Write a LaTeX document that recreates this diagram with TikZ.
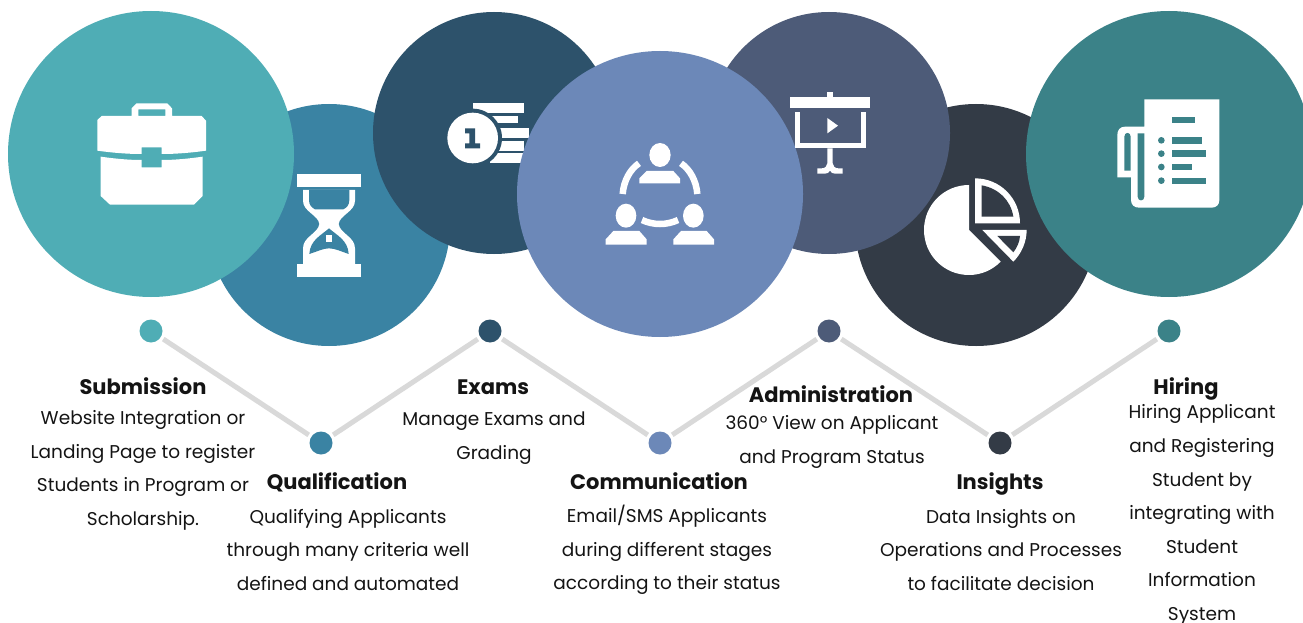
\documentclass[tikz,border=0pt]{standalone}
\usepackage{fontspec}
\setmainfont{Poppins}
\definecolor{cA}{HTML}{4FADB5}
\definecolor{cB}{HTML}{3A83A3}
\definecolor{cC}{HTML}{2D526B}
\definecolor{cD}{HTML}{6C88B8}
\definecolor{cE}{HTML}{4D5B78}
\definecolor{cF}{HTML}{333B46}
\definecolor{cG}{HTML}{3B8288}
\definecolor{lnk}{HTML}{D9D9D9}
\definecolor{ink}{HTML}{141414}
\tikzset{
 big/.style={circle,inner sep=0pt,minimum size=286pt,fill=#1},
 mid/.style={circle,inner sep=0pt,minimum size=242pt,fill=#1},
 dot/.style={circle,inner sep=0pt,minimum size=23pt,fill=#1},
 link/.style={draw=lnk,line width=5pt,shorten <=3pt,shorten >=3pt},
 ttl/.style={text=ink,font=\fontsize{21}{24}\selectfont\bfseries,inner sep=0pt,text height=20pt,text depth=3pt},
 txt/.style={text=ink,align=center,inner sep=0pt,font=\fontsize{18.5}{33.6}\selectfont},
 icon/.style 2 args={xshift=#1pt,yshift=-#2pt,x=.33333pt,y=-.33333pt},
}
\begin{document}
\begin{tikzpicture}[x=1pt,y=-1pt]
\useasboundingbox (0,0) rectangle (1303,623);
\clip (0,0) rectangle (1303,623);
\fill[white] (0,0) rectangle (1303,623);
% circles
\node[mid=cB] (c2) at (329,225) {};
\node[mid=cF] (c6) at (976,225) {};
\node[big=cA] (c1) at (151,154) {};
\node[mid=cC] (c3) at (494,133) {};
\node[mid=cE] (c5) at (829,133) {};
\node[big=cG] (c7) at (1169,154) {};
% coins
\begin{scope}[icon={430}{80}]
\fill[white] (128,68) rectangle (281,98);
\fill[white] (180,108) rectangle (265,130);
\fill[white] (200,145) rectangle (296,175);
\fill[white] (200,182) rectangle (281,212);
\fill[white] (180,220) rectangle (281,250);
\fill[cC] (128,174) circle[radius=88];
\fill[white] (128,174) circle[radius=76];
\fill[cC] (105,145)--(135,145)--(135,190)--(150,190)--(150,205)--(105,205)--(105,190)--(118,190)--(118,160)--(105,160)--cycle;
\end{scope}
\node[big=cD] (c4) at (660,194) {};
% briefcase
\begin{scope}[icon={60}{80}]
\fill[white,even odd rule] (112,120)--(125,108)--(215,108)--(215,85)--(230,70)--(322,70)--(336,85)--(336,108)--(425,108)--(438,122)--(438,212)
 .. controls (395,218) and (350,222) .. (305,222)--(305,202)--(245,202)--(245,222) .. controls (200,222) and (155,218) .. (112,212)--cycle
 (235,88) rectangle (316,108);
\fill[white] (122,230) .. controls (165,236) and (205,240) .. (245,240)--(245,262)--(305,262)--(305,240) .. controls (345,240) and (385,236) .. (428,230)--(428,348)--(402,374)--(150,374)--(122,348)--cycle;
% hourglass
\fill[white] (710,281) rectangle (903,320);
\fill[white] (710,552) rectangle (903,591);
\fill[white] (729,330)--(729,362) .. controls (729,395) and (775,405) .. (778,432) .. controls (775,460) and (729,470) .. (729,505)--(729,552)--(885,552)--(885,505) .. controls (885,470) and (839,460) .. (836,432) .. controls (839,405) and (885,395) .. (885,362)--(885,330)--cycle;
\fill[cB] (747,330)--(747,360) .. controls (747,375) and (755,383) .. (765,388)--(850,388) .. controls (860,383) and (868,375) .. (868,360)--(868,330)--cycle;
\fill[cB] (807,445) .. controls (785,465) and (750,480) .. (748,522) .. controls (770,515) and (790,505) .. (807,505) .. controls (825,505) and (845,515) .. (866,522) .. controls (864,480) and (829,465) .. (807,445)--cycle;
\fill[white] (797,465) rectangle (817,485);
\end{scope}
% people
\begin{scope}[icon={430}{80}]
\fill[white] (690,225) ellipse[x radius=32,y radius=36];
\fill[white] (628,310)--(628,295)--(650,273)--(730,273)--(750,295)--(750,310)--cycle;
\fill[white] (588,407) ellipse[x radius=31,y radius=36];
\fill[white] (527,494)--(527,478)--(550,453)--(628,453)--(650,478)--(650,494)--cycle;
\fill[white] (790,407) ellipse[x radius=31,y radius=36];
\fill[white] (730,494)--(730,478)--(753,453)--(830,453)--(852,478)--(852,494)--cycle;
\draw[white,line width=6.5pt] (578,342) .. controls (581,303) and (600,268) .. (627,250);
\draw[white,line width=6.5pt] (802,342) .. controls (799,303) and (780,268) .. (753,250);
\draw[white,line width=6.5pt] (636,420) .. controls (670,436) and (710,436) .. (744,420);
\end{scope}
% screen
\begin{scope}[icon={770}{80}]
\fill[white] (60,52) rectangle (301,84);
\fill[white] (172,37) rectangle (188,52);
\draw[white,line width=5.3pt] (83,97)--(83,197)--(280,197)--(280,97);
\fill[white] (172,114)--(204,137)--(172,160)--cycle;
\fill[white] (172,205)--(188,205)--(188,250) .. controls (188,258) and (195,265) .. (205,265)--(218,265)--(218,281)--(195,281) .. controls (188,281) and (183,278) .. (180,272) .. controls (177,278) and (172,281) .. (165,281)--(142,281)--(142,265)--(155,265) .. controls (165,265) and (172,258) .. (172,250)--cycle;
% pie
\fill[white] (597,315) .. controls (522,315) and (462,375) .. (462,450) .. controls (462,525) and (522,585) .. (597,585) .. controls (634,585) and (667,570) .. (692,545)--(597,450)--cycle;
\fill[white] (615,295) .. controls (690,295) and (750,355) .. (750,430)--(615,430)--cycle;
\fill[cF] (635,316) .. controls (685,325) and (722,360) .. (730,410)--(635,410)--cycle;
\fill[white] (637,450)--(770,450) .. controls (770,485) and (755,520) .. (730,545)--cycle;
\fill[cF] (682,468)--(750,468) .. controls (749,485) and (741,503) .. (730,517)--cycle;
\end{scope}
% document
\begin{scope}[icon={1090}{80}]
\fill[white] (163,58)--(388,58)--(388,360) .. controls (388,375) and (378,383) .. (365,383)--(148,383) .. controls (133,383) and (123,375) .. (123,360)--(123,292)--(82,292)--(82,165) .. controls (82,150) and (90,140) .. (105,140)--(163,140)--cycle;
\fill[cG] (103,272)--(103,170) .. controls (103,155) and (122,155) .. (122,170)--(122,272)--cycle;
\fill[cG] (143,160)--(163,160)--(163,350) .. controls (163,365) and (143,365) .. (143,350)--cycle;
\fill[cG] (245,110) rectangle (316,130);
\fill[cG] (245,171) rectangle (337,191);
\fill[cG] (245,211) rectangle (347,231);
\fill[cG] (245,252) rectangle (306,271);
\fill[cG] (245,293) rectangle (347,312);
\foreach \yy in {181,221,261,302}{\fill[cG] (214,\yy) circle[radius=10];}
\end{scope}
% dots and links
\node[dot=cA] (d1) at (151,331) {};
\node[dot=cB] (d2) at (321,443) {};
\node[dot=cC] (d3) at (490,331) {};
\node[dot=cD] (d4) at (660,443) {};
\node[dot=cE] (d5) at (829,331) {};
\node[dot=cF] (d6) at (1000,443) {};
\node[dot=cG] (d7) at (1169,331) {};
\draw[link] (d1)--(d2);
\draw[link] (d2)--(d3);
\draw[link] (d3)--(d4);
\draw[link] (d4)--(d5);
\draw[link] (d5)--(d6);
\draw[link] (d6)--(d7);
% text
\node[ttl] (t1) at (143,386) {Submission};
\node[txt] (b1) at (143,470.5) {Website Integration or\\Landing Page to register\\Students in Program or\\Scholarship.};
\node[ttl] (t2) at (337,481) {Qualification};
\node[txt] (b2) at (348,550) {Qualifying Applicants\\through many criteria well\\defined and automated};
\node[ttl] (t3) at (493,386) {Exams};
\node[txt] (b3) at (494,438) {Manage Exams and\\Grading};
\node[ttl] (t4) at (659,481) {Communication};
\node[txt] (b4) at (667,550) {Email/SMS Applicants\\during different stages\\according to their status};
\node[ttl] (t5) at (831,394) {Administration};
\node[txt] (b5) at (832,442) {360° View on Applicant\\and Program Status};
\node[ttl] (t6) at (1000,481) {Insights};
\node[txt] (b6) at (1001,550) {Data Insights on\\Operations and Processes\\to facilitate decision};
\node[ttl] (t7) at (1186,386) {Hiring};
\node[txt] (b7) at (1202,515) {Hiring Applicant\\and Registering\\Student by\\integrating with\\Student\\Information\\System};
\end{tikzpicture}
\end{document}
